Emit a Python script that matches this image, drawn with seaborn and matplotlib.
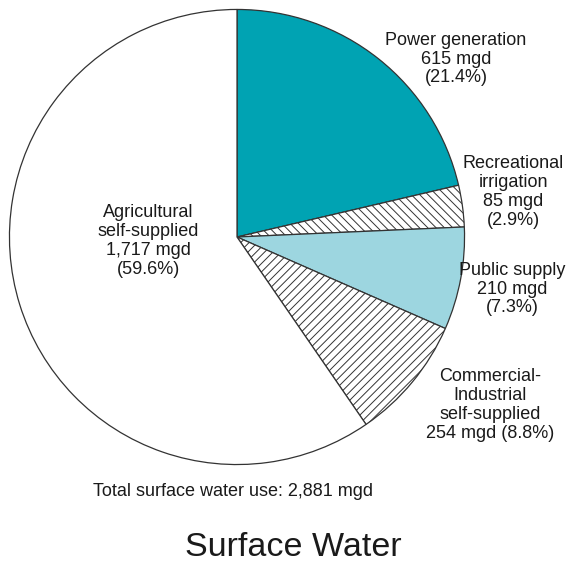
import numpy as np
import matplotlib
matplotlib.use("Agg")
import matplotlib.pyplot as plt
import seaborn as sns

sns.set_theme(style="white")
plt.rcParams['font.family'] = ['Liberation Sans', 'DejaVu Sans']
plt.rcParams['hatch.linewidth'] = 0.7
plt.rcParams['hatch.color'] = '#333333'

# water use, million gallons per day
categories = ['Power generation', 'Recreational irrigation', 'Public supply',
              'Commercial-Industrial self-supplied', 'Agricultural self-supplied']
mgd = [615, 85, 210, 254, 1717]
pct = [21.4, 2.9, 7.3, 8.8, 59.6]
colors = ['#00a3b3', 'white', '#9dd6e0', 'white', 'white']
hatches = [None, '\\\\\\\\', None, '////', None]

fig = plt.figure(figsize=(5.82, 5.64), dpi=100)
W, H = 582, 564
cx, cy, r = 237, 237, 228
ax = fig.add_axes([(cx - r) / W, (H - cy - r) / H, 2 * r / W, 2 * r / H])

wedges, _ = ax.pie(mgd, startangle=90, counterclock=False, colors=colors,
                   radius=1, wedgeprops=dict(edgecolor='#333333', linewidth=0.9))
for w, h in zip(wedges, hatches):
    if h:
        w.set_hatch(h)
ax.set_xlim(-1.002, 1.002)
ax.set_ylim(-1.002, 1.002)
ax.axis('off')

labels = [
    (456, 59, 'Power generation\n{:,} mgd\n({}%)'.format(mgd[0], pct[0])),
    (513, 192, 'Recreational\nirrigation\n{:,} mgd\n({}%)'.format(mgd[1], pct[1])),
    (512, 289, 'Public supply\n{:,} mgd\n({}%)'.format(mgd[2], pct[2])),
    (490, 405, 'Commercial-\nIndustrial\nself-supplied\n{:,} mgd ({}%)'.format(mgd[3], pct[3])),
    (148, 241, 'Agricultural\nself-supplied\n{:,} mgd\n({}%)'.format(mgd[4], pct[4])),
]
for x, y, s in labels:
    fig.text(x / W, 1 - y / H, s, ha='center', va='center', fontsize=13,
             color='#1a1a1a', linespacing=1.15)

fig.text(93 / W, 1 - 492 / H, 'Total surface water use: {:,} mgd'.format(sum(mgd)),
         ha='left', va='center', fontsize=13, color='#1a1a1a')
fig.text(293 / W, 1 - 547 / H, 'Surface Water', ha='center', va='center',
         fontsize=24.5, color='#1a1a1a')

fig.savefig('out.png', dpi=100, facecolor='white')
